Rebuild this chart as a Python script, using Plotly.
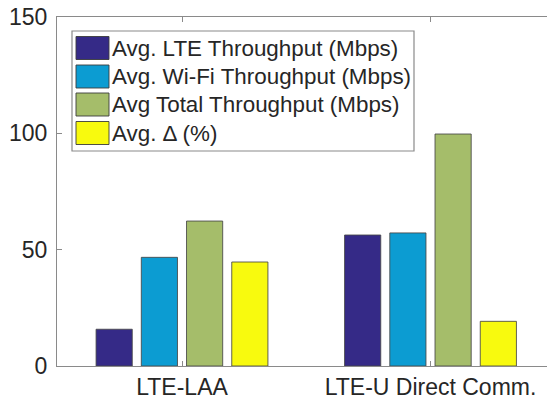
import plotly.graph_objects as go

# Data
categories = ["LTE-LAA", "LTE-U Direct Comm."]
series_names = [
    "Avg. LTE Throughput (Mbps)",
    "Avg. Wi-Fi Throughput (Mbps)",
    "Avg Total Throughput (Mbps)",
    "Avg. Δ (%)",
]
lte_throughput = [15.8, 56.3]
wifi_throughput = [46.7, 57.2]
total_throughput = [62.3, 99.7]
avg_delta = [44.7, 19.2]
y_ticks = [0, 50, 100, 150]

series_values = [lte_throughput, wifi_throughput, total_throughput, avg_delta]
colors = ["#352A87", "#0C9CD2", "#A5BD6A", "#F8FA0E"]

W, H = 547, 403
ML, MR, MT, MB = 57, 0, 17, 37
PW, PH = W - ML - MR, H - MT - MB

FONT = "Liberation Sans, Arial, sans-serif"
TEXT = "#262626"
AXIS = "#8a8a8a"

fig = go.Figure()
for name, vals, col in zip(series_names, series_values, colors):
    fig.add_trace(go.Bar(
        x=categories, y=vals, name=name,
        marker=dict(color=col, line=dict(color="rgba(70,70,70,0.85)", width=1)),
        showlegend=False,
    ))


def to_px(x, y):
    return (x - ML) / PW, (H - MB - y) / PH


# Legend box drawn as shapes + text
shapes = []
annotations = []
bx0, by0 = to_px(72, 31)
bx1, by1 = to_px(414, 151)
shapes.append(dict(type="rect", xref="paper", yref="paper",
                   x0=bx0, y0=by1, x1=bx1, y1=by0,
                   line=dict(color=AXIS, width=1.2), fillcolor="white", layer="above"))
row_centers = [48, 76.5, 104.5, 133]
for name, col, cy in zip(series_names, colors, row_centers):
    sx0, sy0 = to_px(76, cy - 11.5)
    sx1, sy1 = to_px(109, cy + 11.5)
    shapes.append(dict(type="rect", xref="paper", yref="paper",
                       x0=sx0, y0=sy1, x1=sx1, y1=sy0,
                       line=dict(color="rgba(60,60,60,0.9)", width=1),
                       fillcolor=col, layer="above"))
    tx, ty = to_px(109.5, cy)
    annotations.append(dict(xref="paper", yref="paper", x=tx, y=ty,
                            xanchor="left", yanchor="middle", text=name,
                            showarrow=False,
                            font=dict(family=FONT, size=22.4, color=TEXT)))

# Category spacing 248.5 px; axis starts half a category left of the first group
spacing = 248.5
x_lo = -(182 - ML) / spacing
x_hi = x_lo + PW / spacing

fig.update_layout(
    width=W, height=H,
    margin=dict(l=ML, r=MR, t=MT, b=MB, pad=0),
    paper_bgcolor="white", plot_bgcolor="white",
    barmode="group", bargap=0.272, bargroupgap=0.2,
    shapes=shapes, annotations=annotations,
    font=dict(family=FONT, color=TEXT),
    xaxis=dict(
        range=[x_lo, x_hi], showline=True, linecolor=AXIS, linewidth=1.2,
        mirror="allticks", ticks="inside", ticklen=5, tickcolor=AXIS,
        showgrid=False, zeroline=False, fixedrange=True,
        tickfont=dict(family=FONT, size=23, color=TEXT),
    ),
    yaxis=dict(
        range=[0, 150], tickvals=y_ticks, showline=True, linecolor=AXIS,
        linewidth=1.2, mirror=False, ticks="inside", ticklen=5, tickcolor=AXIS,
        showgrid=False, zeroline=False, fixedrange=True,
        tickfont=dict(family=FONT, size=23, color=TEXT), ticklabelstandoff=4,
    ),
)

fig.write_html("out.html")
